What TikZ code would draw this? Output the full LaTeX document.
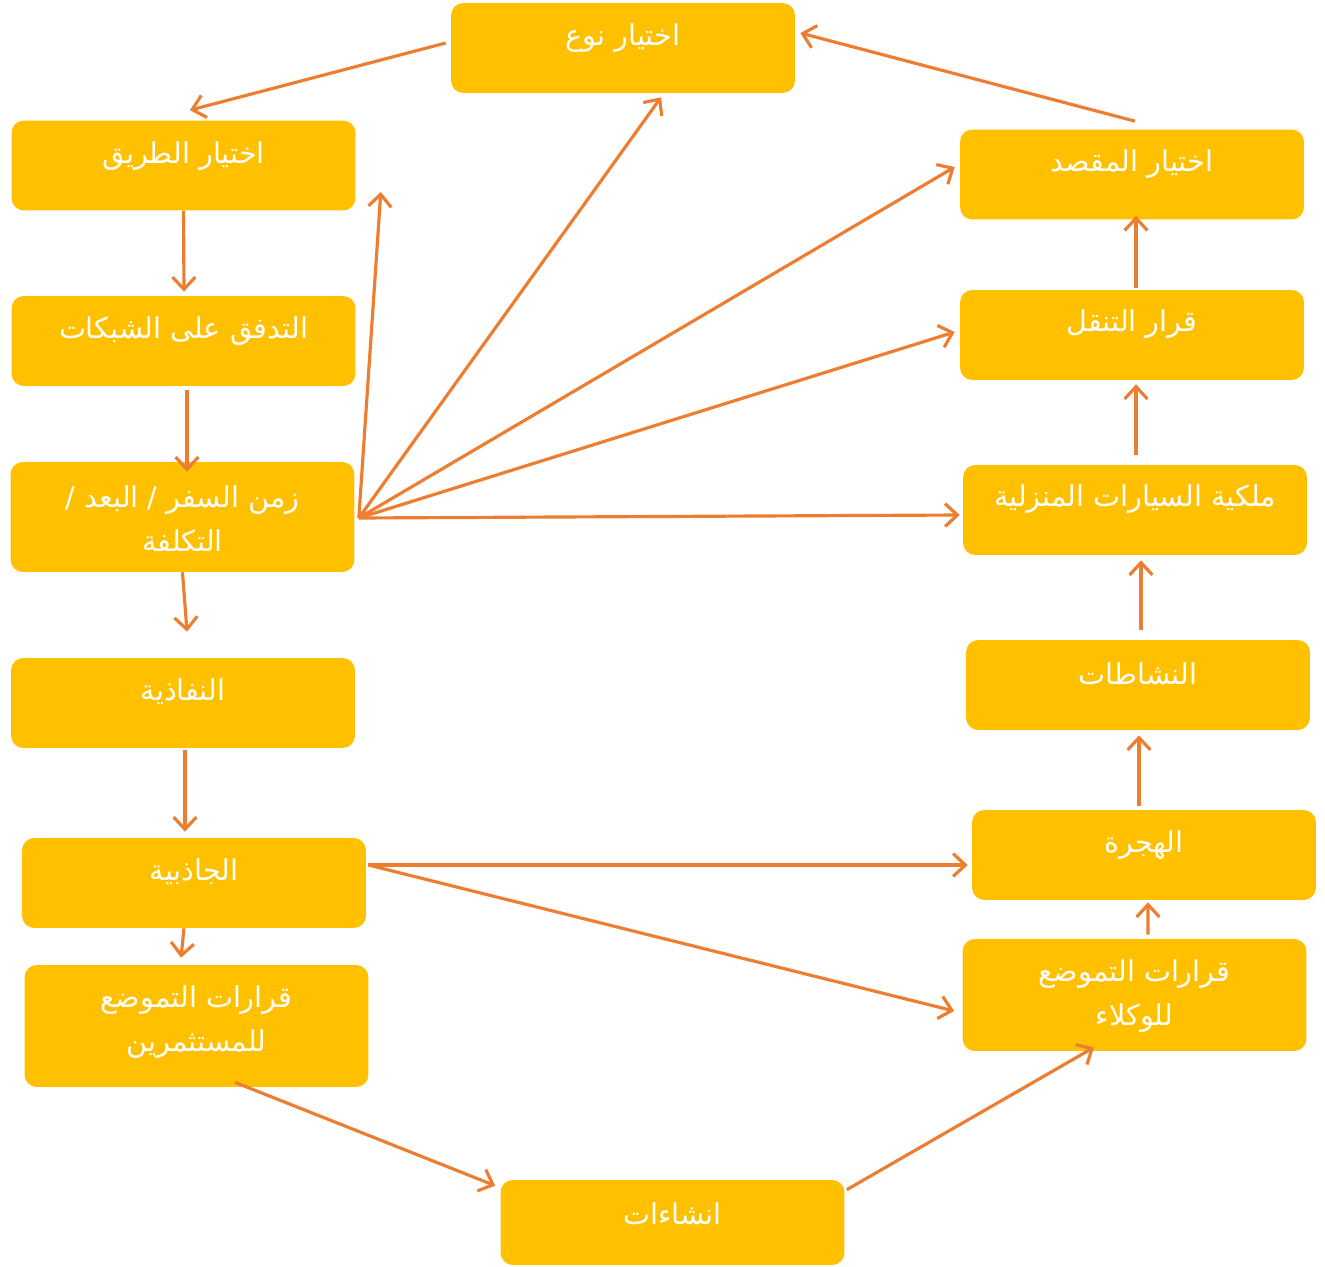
\documentclass[tikz,border=0pt]{standalone}
\usepackage{fontspec}
\newfontfamily\arabicfont[Script=Arabic]{DejaVu Sans}
\TeXXeTstate=1
\usetikzlibrary{arrows.meta,calc}
\definecolor{boxc}{HTML}{FFC000}
\definecolor{arrc}{HTML}{ED7D31}
\tikzset{
  box/.style={fill=boxc,draw=none,rounded corners=7pt,minimum width=6.88cm,minimum height=1.8cm,inner sep=0pt},
  lbl/.style={text=white,align=center,inner sep=0pt,font=\arabicfont\fontsize{16.3}{25}\selectfont},
  arr/.style={draw=arrc,line width=1.8pt,-{Straight Barb[length=7pt,width=13pt,line width=1.8pt]}}
}
\begin{document}
\begin{tikzpicture}[x=0.02cm,y=-0.02cm]
\useasboundingbox (0,0) rectangle (1325,1267);
% boxes
\node[box] (b1) at (623,48) {};
\node[box] (b2) at (183.5,165.5) {};
\node[box] (b3) at (183.5,341) {};
\node[box,minimum height=2.2cm] (b4) at (182.5,517) {};
\node[box] (b5) at (183,703) {};
\node[box] (b6) at (194,883) {};
\node[box,minimum height=2.44cm] (b7) at (196.5,1026) {};
\node[box,minimum height=1.7cm] (b8) at (672.5,1222.5) {};
\node[box,minimum height=2.24cm] (b9) at (1134.5,995) {};
\node[box] (b10) at (1144,855) {};
\node[box] (b11) at (1138,685) {};
\node[box] (b12) at (1135,510) {};
\node[box] (b13) at (1132,335) {};
\node[box] (b14) at (1132,174.5) {};
% labels
\node[lbl] (t1) at (623,38) {\beginR اختيار نوع\endR};
\node[lbl] (t2) at (183.5,156) {\beginR اختيار الطريق\endR};
\node[lbl] (t3) at (183.5,331) {\beginR التدفق على الشبكات\endR};
\node[lbl] (t4) at (182.5,519) {\beginR زمن السفر / البعد /\endR\\\beginR التكلفة\endR};
\node[lbl] (t5) at (183,692) {\beginR النفاذية\endR};
\node[lbl] (t6) at (194,872) {\beginR الجاذبية\endR};
\node[lbl] (t7) at (196.5,1022) {\beginR قرارات التموضع\endR\\\beginR للمستثمرين\endR};
\node[lbl] (t8) at (672.5,1214) {\beginR انشاءات\endR};
\node[lbl] (t9) at (1134.5,996) {\beginR قرارات التموضع\endR\\\beginR للوكلاء\endR};
\node[lbl] (t10) at (1144,845) {\beginR الهجرة\endR};
\node[lbl] (t11) at (1138,674) {\beginR النشاطات\endR};
\node[lbl] (t12) at (1135,499) {\beginR ملكية السيارات المنزلية\endR};
\node[lbl] (t13) at (1132,324) {\beginR قرار التنقل\endR};
\node[lbl] (t14) at (1132,164) {\beginR اختيار المقصد\endR};
% arrows
\draw[arr] ($(b1.west)+(-5,-5)$) -- ($(b2.north)+(6.5,-10)$);
\draw[arr] ($(b14.north)+(3,-8)$) -- ($(b1.east)+(5,-15)$);
\draw[arr] (b2.south) -- ($(b3.north)+(0.5,-4)$);
\draw[arr] ($(b3.south)+(3.5,4)$) -- ($(b4.north)+(4.5,10)$);
\draw[arr] (b4.south) -- ($(b5.north)+(4,-26)$);
\draw[arr] ($(b5.south)+(2,2)$) -- ($(b6.north)+(-9,-6)$);
\draw[arr] ($(b6.south)+(-10,0)$) -- ($(b7.north)+(-15.5,-7)$);
\draw[arr] ($(b7.south)+(38.5,-5)$) -- ($(b8.north west)+(-5,6)$);
\draw[arr] ($(b8.north east)+(2,10)$) -- ($(b9.south)+(-40.5,-4)$);
\draw[arr] ($(b9.north)+(13.5,-4)$) -- ($(b10.south)+(4,2)$);
\draw[arr] ($(b10.north)+(-5,-4)$) -- ($(b11.south)+(1,5)$);
\draw[arr] ($(b11.north)+(3,-10)$) -- ($(b12.south)+(6,5)$);
\draw[arr] ($(b12.north)+(1,-10)$) -- ($(b13.south)+(4,4)$);
\draw[arr] ($(b13.north)+(4,-2)$) -- ($(b14.south)+(4,-4)$);
% fan from b4
\coordinate (fan) at ($(b4.east)+(4,1)$);
\draw[arr] (fan) -- ($(b2.east)+(25,26.5)$);
\draw[arr] (fan) -- ($(b1.south)+(38,4)$);
\draw[arr] (fan) -- ($(b14.west)+(-5,-7.5)$);
\draw[arr] (fan) -- ($(b13.west)+(-5,-3)$);
\draw[arr] (fan) -- ($(b12.west)+(-3,5)$);
% from b6
\coordinate (gsrc) at ($(b6.east)+(2,-18)$);
\draw[arr] (gsrc) -- ($(b10.west)+(-4,10)$);
\draw[arr] (gsrc) -- ($(b9.west)+(-8,16)$);
\end{tikzpicture}
\end{document}
